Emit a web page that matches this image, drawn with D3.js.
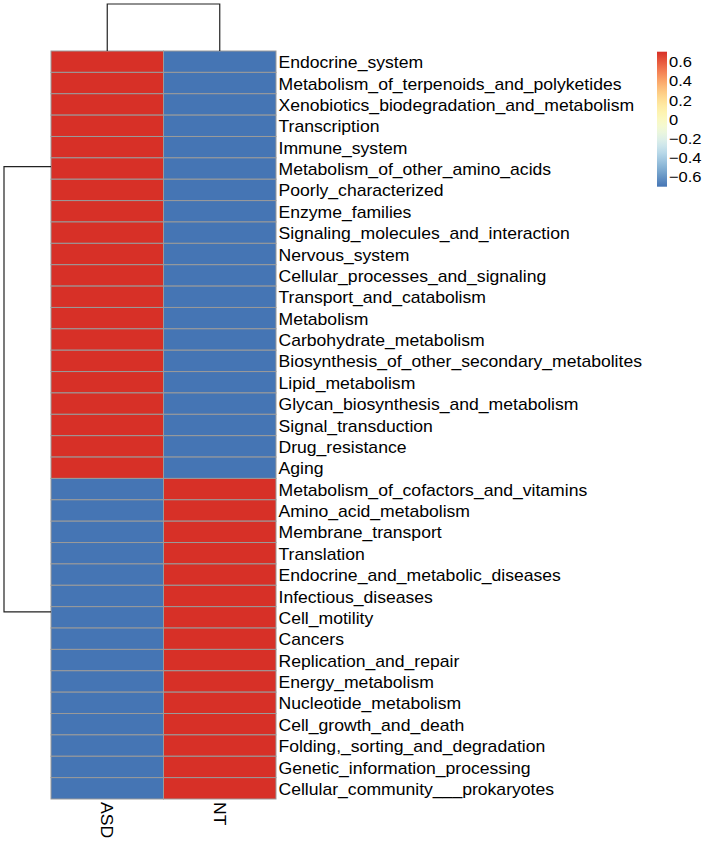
<!DOCTYPE html>
<html>
<head>
<meta charset="utf-8">
<script src="https://cdn.jsdelivr.net/npm/d3@7"></script>
<style>
	body { margin: 0; background: #fff; }
	text { font-family: "Liberation Sans", Arial, sans-serif; fill: #000; }
</style>
</head>
<body>
<div id="vis"></div>
<script>

// Row (pathway) names, top to bottom, in clustered order
var pathways = [
	"Endocrine_system", "Metabolism_of_terpenoids_and_polyketides",
	"Xenobiotics_biodegradation_and_metabolism", "Transcription", "Immune_system",
	"Metabolism_of_other_amino_acids", "Poorly_characterized", "Enzyme_families",
	"Signaling_molecules_and_interaction", "Nervous_system",
	"Cellular_processes_and_signaling", "Transport_and_catabolism", "Metabolism",
	"Carbohydrate_metabolism", "Biosynthesis_of_other_secondary_metabolites",
	"Lipid_metabolism", "Glycan_biosynthesis_and_metabolism", "Signal_transduction",
	"Drug_resistance", "Aging",
	"Metabolism_of_cofactors_and_vitamins", "Amino_acid_metabolism",
	"Membrane_transport", "Translation", "Endocrine_and_metabolic_diseases",
	"Infectious_diseases", "Cell_motility", "Cancers", "Replication_and_repair",
	"Energy_metabolism", "Nucleotide_metabolism", "Cell_growth_and_death",
	"Folding,_sorting_and_degradation", "Genetic_information_processing",
	"Cellular_community___prokaryotes"
];

var groups = ["ASD", "NT"];

// row-scaled values (z-scores)
var asdValues = [
	0.707, 0.707, 0.707, 0.707, 0.707, 0.707, 0.707, 0.707, 0.707, 0.707,
	0.707, 0.707, 0.707, 0.707, 0.707, 0.707, 0.707, 0.707, 0.707, 0.707,
	-0.707, -0.707, -0.707, -0.707, -0.707, -0.707, -0.707, -0.707,
	-0.707, -0.707, -0.707, -0.707, -0.707, -0.707, -0.707
];
var ntValues = [
	-0.707, -0.707, -0.707, -0.707, -0.707, -0.707, -0.707, -0.707, -0.707, -0.707,
	-0.707, -0.707, -0.707, -0.707, -0.707, -0.707, -0.707, -0.707, -0.707, -0.707,
	0.707, 0.707, 0.707, 0.707, 0.707, 0.707, 0.707, 0.707,
	0.707, 0.707, 0.707, 0.707, 0.707, 0.707, 0.707
];

// legend ticks
var legendTicks = [0.6, 0.4, 0.2, 0, -0.2, -0.4, -0.6];

// row dendrogram: positions (in row units) where the two clusters attach
var rowBranchPos = [5.41, 26.24];

// pheatmap default palette rev(RdYlBu 7)
var paletteColors = ["#4575B4", "#91BFDB", "#E0F3F8", "#FFFFBF", "#FEE090", "#FC8D59", "#D73027"];


function heatmap() {
	var width = 709;
	var height = 842;

	var gridLeft = 51, gridRight = 276, gridTop = 51, gridBottom = 799;
	var fontSize = 16;
	var stretch = 1.1;   // labels are a bit wide in the original

	var svg = d3.select("#vis").append("svg")
		.attr("width", width)
		.attr("height", height);

	// build cell table
	var cells = [];
	pathways.forEach(function(p, i) {
		cells.push({ row: p, col: "ASD", value: asdValues[i] });
		cells.push({ row: p, col: "NT", value: ntValues[i] });
	});

	var x = d3.scaleBand().domain(groups).range([gridLeft, gridRight]);
	var y = d3.scaleBand().domain(pathways).range([gridTop, gridBottom]);

	var vmax = d3.max(cells, function(d) { return Math.abs(d.value); });
	var colorInterp = d3.interpolateRgbBasis(paletteColors);
	var color = d3.scaleSequential(colorInterp).domain([-vmax, vmax]);

	// cells
	svg.append("g").selectAll("rect")
		.data(cells)
		.enter().append("rect")
		.attr("x", function(d) { return x(d.col); })
		.attr("y", function(d) { return y(d.row); })
		.attr("width", x.bandwidth())
		.attr("height", y.bandwidth())
		.attr("fill", function(d) { return color(d.value); })
		.attr("stroke", "#9a9a9a")
		.attr("stroke-width", 1);

	// row labels
	svg.append("g").selectAll("text")
		.data(pathways)
		.enter().append("text")
		.attr("transform", function(d) {
			return "translate(" + (gridRight + 2.5) + "," + (y(d) + y.bandwidth() / 2) + ") scale(" + stretch + ",1)";
		})
		.attr("dy", "0.41em")
		.style("font-size", fontSize + "px")
		.text(function(d) { return d; });

	// column labels (vertical)
	svg.append("g").selectAll("text")
		.data(groups)
		.enter().append("text")
		.attr("transform", function(d) {
			return "translate(" + (x(d) + x.bandwidth() / 2) + "," + (gridBottom + 3) + ") rotate(90) scale(" + stretch + ",1)";
		})
		.attr("dy", "0.36em")
		.style("font-size", fontSize + "px")
		.text(function(d) { return d; });

	// column dendrogram
	var treeTop = 4;
	var colTree = d3.path();
	colTree.moveTo(x("ASD") + x.bandwidth() / 2, gridTop);
	colTree.lineTo(x("ASD") + x.bandwidth() / 2, treeTop);
	colTree.lineTo(x("NT") + x.bandwidth() / 2, treeTop);
	colTree.lineTo(x("NT") + x.bandwidth() / 2, gridTop);
	svg.append("path")
		.attr("d", colTree.toString())
		.attr("fill", "none")
		.attr("stroke", "#222")
		.attr("stroke-width", 1.2);

	// row dendrogram
	var rowUnit = d3.scaleLinear().domain([0, pathways.length]).range([gridTop, gridBottom]);
	var treeLeft = 4;
	var rowTree = d3.path();
	rowTree.moveTo(gridLeft, rowUnit(rowBranchPos[0]));
	rowTree.lineTo(treeLeft, rowUnit(rowBranchPos[0]));
	rowTree.lineTo(treeLeft, rowUnit(rowBranchPos[1]));
	rowTree.lineTo(gridLeft, rowUnit(rowBranchPos[1]));
	svg.append("path")
		.attr("d", rowTree.toString())
		.attr("fill", "none")
		.attr("stroke", "#222")
		.attr("stroke-width", 1.2);

	//////////////////////////////  LEGEND  //////////////////////////////
	var legX = 657, legW = 10, legTop = 51.7, legBottom = 186.7;
	var legScale = d3.scaleLinear().domain([-vmax, vmax]).range([legBottom, legTop]);

	var defs = svg.append("defs");
	var grad = defs.append("linearGradient")
		.attr("id", "legend-grad")
		.attr("x1", "0%").attr("y1", "100%")
		.attr("x2", "0%").attr("y2", "0%");
	d3.range(0, 1.0001, 0.05).forEach(function(t) {
		grad.append("stop")
			.attr("offset", (t * 100) + "%")
			.attr("stop-color", colorInterp(t));
	});

	svg.append("rect")
		.attr("x", legX)
		.attr("y", legTop)
		.attr("width", legW)
		.attr("height", legBottom - legTop)
		.attr("fill", "url(#legend-grad)");

	svg.append("g").selectAll("text")
		.data(legendTicks)
		.enter().append("text")
		.attr("transform", function(d) {
			return "translate(" + (legX + legW + 2) + "," + legScale(d) + ") scale(" + stretch + ",1)";
		})
		.attr("dy", "0.36em")
		.style("font-size", "15px")
		.text(function(d) { return d3.format("")(d).replace("-", "\u2212"); });
}

heatmap();
</script>
</body>
</html>
